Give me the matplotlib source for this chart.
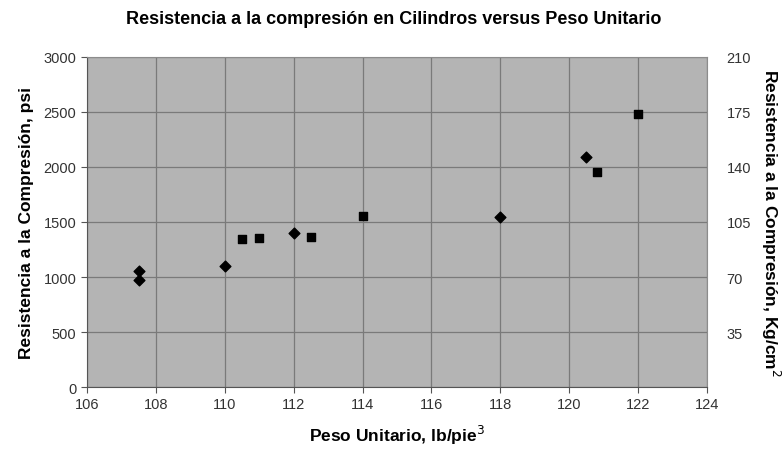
import matplotlib
matplotlib.use("Agg")
import matplotlib.pyplot as plt

# ── Data ───────────────────────────────────────────────────────────
# diamonds and squares are two separate sets of cylinder tests
peso_diamantes = [107.5, 107.5, 110.0, 112.0, 118.0, 120.5]
resist_diamantes = [1055, 975, 1100, 1400, 1545, 2095]

peso_cuadrados = [110.5, 111.0, 112.5, 114.0, 120.8, 122.0]
resist_cuadrados = [1345, 1355, 1365, 1555, 1950, 2480]

x_ticks = [106, 108, 110, 112, 114, 116, 118, 120, 122, 124]
y_ticks_psi = [0, 500, 1000, 1500, 2000, 2500, 3000]
y_ticks_kg = [35, 70, 105, 140, 175, 210]

# ── Style ──────────────────────────────────────────────────────────
plt.rcParams["font.family"] = ["Liberation Sans", "DejaVu Sans"]
PLOT_BG = "#b4b4b4"
GRID_COLOR = "#7a7a7a"
TICK_COLOR = "#333333"

fig = plt.figure(figsize=(7.83, 4.56), dpi=100)
ax = fig.add_axes([0.111, 0.149, 0.792, 0.724])
ax.set_facecolor(PLOT_BG)

ax.scatter(peso_diamantes, resist_diamantes, marker="D", s=30, color="black", zorder=3)
ax.scatter(peso_cuadrados, resist_cuadrados, marker="s", s=26, color="black", zorder=3)

ax.set_xlim(106, 124)
ax.set_ylim(0, 3000)
ax.set_xticks(x_ticks)
ax.set_yticks(y_ticks_psi)
ax.grid(True, color=GRID_COLOR, linewidth=0.9)
ax.set_axisbelow(True)
for side in ["top", "right"]:
    ax.spines[side].set_color("#8c8c8c")
for side in ["left", "bottom"]:
    ax.spines[side].set_color("#555555")
ax.tick_params(labelsize=10.5, color="#555555", labelcolor=TICK_COLOR, length=4)

fig.text(0.503, 1 - 19 / 456, "Resistencia a la compresión en Cilindros versus Peso Unitario",
         fontsize=13, fontweight="bold", ha="center", va="center")
ax.set_xlabel("Peso Unitario, lb/pie$^3$", fontsize=12.5, fontweight="bold", va="center")
ax.xaxis.set_label_coords(0.5, -0.145)
ax.set_ylabel("Resistencia a la Compresión, psi", fontsize=12.5, fontweight="bold",
              va="center", ha="center")
ax.yaxis.set_label_coords(-0.098, 0.5)

# secondary scale in kg/cm2
ax2 = ax.twinx()
ax2.set_ylim(0, 210)
ax2.set_yticks(y_ticks_kg)
ax2.tick_params(labelsize=10.5, labelcolor=TICK_COLOR, length=0, pad=14)
for side in ax2.spines:
    ax2.spines[side].set_visible(False)
ax2.set_ylabel("Resistencia a la Compresión, Kg/cm$^2$", fontsize=12.5, fontweight="bold",
               rotation=270, va="center", ha="center")
ax2.yaxis.set_label_coords(1.103, 0.5)

fig.savefig("out.png", dpi=100)
